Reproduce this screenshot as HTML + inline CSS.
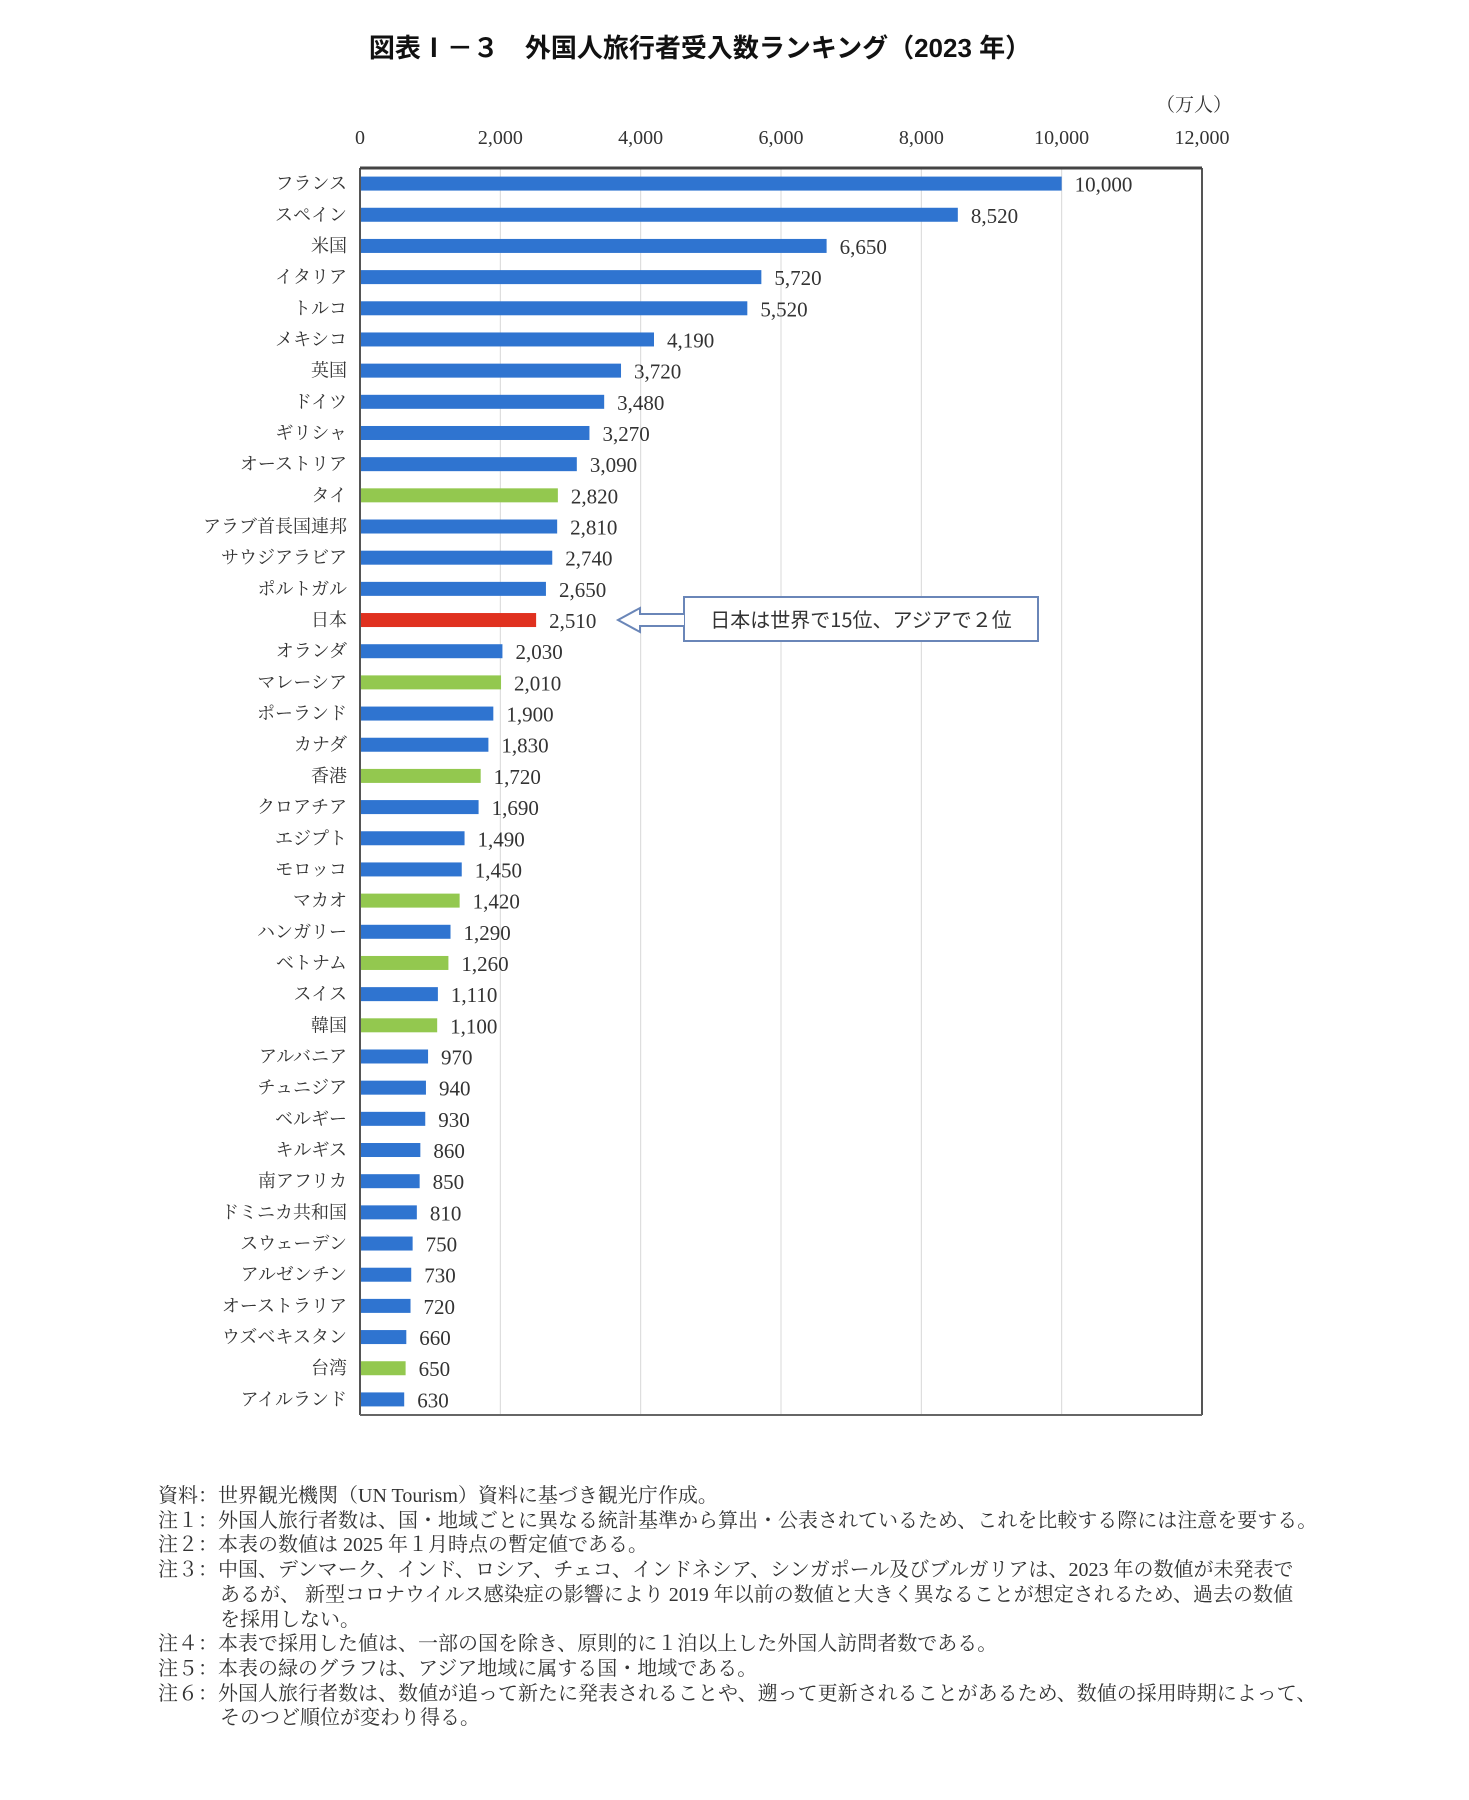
<!DOCTYPE html>
<html><head><meta charset="utf-8">
<style>
body{margin:0;background:#fff;width:1469px;height:1800px;overflow:hidden;font-family:"Liberation Serif","Noto Serif CJK SC",serif;}
svg text{font-family:"Liberation Serif","Noto Serif CJK SC","Noto Sans CJK JP",serif;fill:#333;}
.notes{position:absolute;left:158px;top:1484px;width:1172px;font-size:20px;line-height:24.7px;color:#333;font-family:"Liberation Serif","Noto Serif CJK SC",serif;}
.notes div{padding-left:62px;text-indent:-62px;}
</style></head><body>
<svg id="chart" width="1469" height="1480" style="position:absolute;left:0;top:0">
<text x="700" y="57" text-anchor="middle" font-size="26" font-weight="bold" style="font-family:'Liberation Sans','Noto Sans CJK JP',sans-serif;fill:#111">図表Ⅰ－３　外国人旅行者受入数ランキング（2023 年）</text>
<text x="1232" y="111" text-anchor="end" font-size="19">（万人）</text>
<g id="grid"></g><g id="bars"></g>
<g>
<rect x="684" y="597" width="354" height="44" fill="#fff" stroke="#6a86b8" stroke-width="2"/>
<path d="M684 614 L640 614 L640 608 L618 620 L640 632 L640 626 L684 626" fill="#fff" stroke="#6a86b8" stroke-width="2"/>
<text x="861" y="627" text-anchor="middle" font-size="20" style="font-family:'Noto Sans CJK JP',sans-serif">日本は世界で15位、アジアで２位</text>
</g>
</svg>
<script>
const categories=["フランス","スペイン","米国","イタリア","トルコ","メキシコ","英国","ドイツ","ギリシャ","オーストリア","タイ","アラブ首長国連邦","サウジアラビア","ポルトガル","日本","オランダ","マレーシア","ポーランド","カナダ","香港","クロアチア","エジプト","モロッコ","マカオ","ハンガリー","ベトナム","スイス","韓国","アルバニア","チュニジア","ベルギー","キルギス","南アフリカ","ドミニカ共和国","スウェーデン","アルゼンチン","オーストラリア","ウズベキスタン","台湾","アイルランド"];
const values=[10000,8520,6650,5720,5520,4190,3720,3480,3270,3090,2820,2810,2740,2650,2510,2030,2010,1900,1830,1720,1690,1490,1450,1420,1290,1260,1110,1100,970,940,930,860,850,810,750,730,720,660,650,630];
const regions=["o","o","o","o","o","o","o","o","o","o","a","o","o","o","j","o","a","o","o","a","o","o","o","a","o","a","o","a","o","o","o","o","o","o","o","o","o","o","a","o"];
const ticks=[0,2000,4000,6000,8000,10000,12000];
const NS="http://www.w3.org/2000/svg";
const L=360,R=1202,T=168,B=1415,MAX=12000;
const x=v=>L+(R-L)*v/MAX;
const band=(B-T)/categories.length;
const y=i=>T+band*(i+0.5);
function mk(tag,attrs,parent){const e=document.createElementNS(NS,tag);for(const k in attrs)e.setAttribute(k,attrs[k]);parent.appendChild(e);return e;}
const grid=document.getElementById('grid'),bars=document.getElementById('bars');
ticks.forEach(t=>{
  const g=mk('line',{x1:x(t),x2:x(t),y1:T,y2:B,stroke:t===0||t===MAX?'#555':'#d8d8d8','stroke-width':t===0||t===MAX?2:1},grid);
  
  
  const tx=mk('text',{x:x(t),y:144,'text-anchor':'middle','font-size':20},grid);
  tx.textContent=t.toLocaleString('en-US');
  
  
});
const ax=mk('line',{x1:L,x2:R,y1:T,y2:T,stroke:'#444','stroke-width':3},grid);


const bx=mk('line',{x1:L,x2:R,y1:B,y2:B,stroke:'#666','stroke-width':2},grid);


const col={o:'#2f74d0',a:'#93c84f',j:'#e0311f'};
categories.forEach((c,i)=>{
  const r=mk('rect',{x:L+1,y:y(i)-7,width:x(values[i])-L-1,height:14,fill:col[regions[i]]},bars);
  
  
  const lb=mk('text',{x:347,y:y(i)+6,'text-anchor':'end','font-size':18},bars);
  lb.textContent=c;
  
  
  const vl=mk('text',{x:x(values[i])+13,y:y(i)+8,'font-size':21},bars);
  vl.textContent=values[i].toLocaleString('en-US');
  
  
});
</script>
<div class="notes">
<div>資料：世界観光機関（UN Tourism）資料に基づき観光庁作成。</div>
<div>注１：外国人旅行者数は、国・地域ごとに異なる統計基準から算出・公表されているため、これを比較する際には注意を要する。</div>
<div>注２：本表の数値は 2025 年１月時点の暫定値である。</div>
<div>注３：中国、デンマーク、インド、ロシア、チェコ、インドネシア、シンガポール及びブルガリアは、2023 年の数値が未発表で<br>あるが、 新型コロナウイルス感染症の影響により 2019 年以前の数値と大きく異なることが想定されるため、過去の数値<br>を採用しない。</div>
<div>注４：本表で採用した値は、一部の国を除き、原則的に１泊以上した外国人訪問者数である。</div>
<div>注５：本表の緑のグラフは、アジア地域に属する国・地域である。</div>
<div>注６：外国人旅行者数は、数値が追って新たに発表されることや、遡って更新されることがあるため、数値の採用時期によって、<br>そのつど順位が変わり得る。</div>
</div>
</body></html>
